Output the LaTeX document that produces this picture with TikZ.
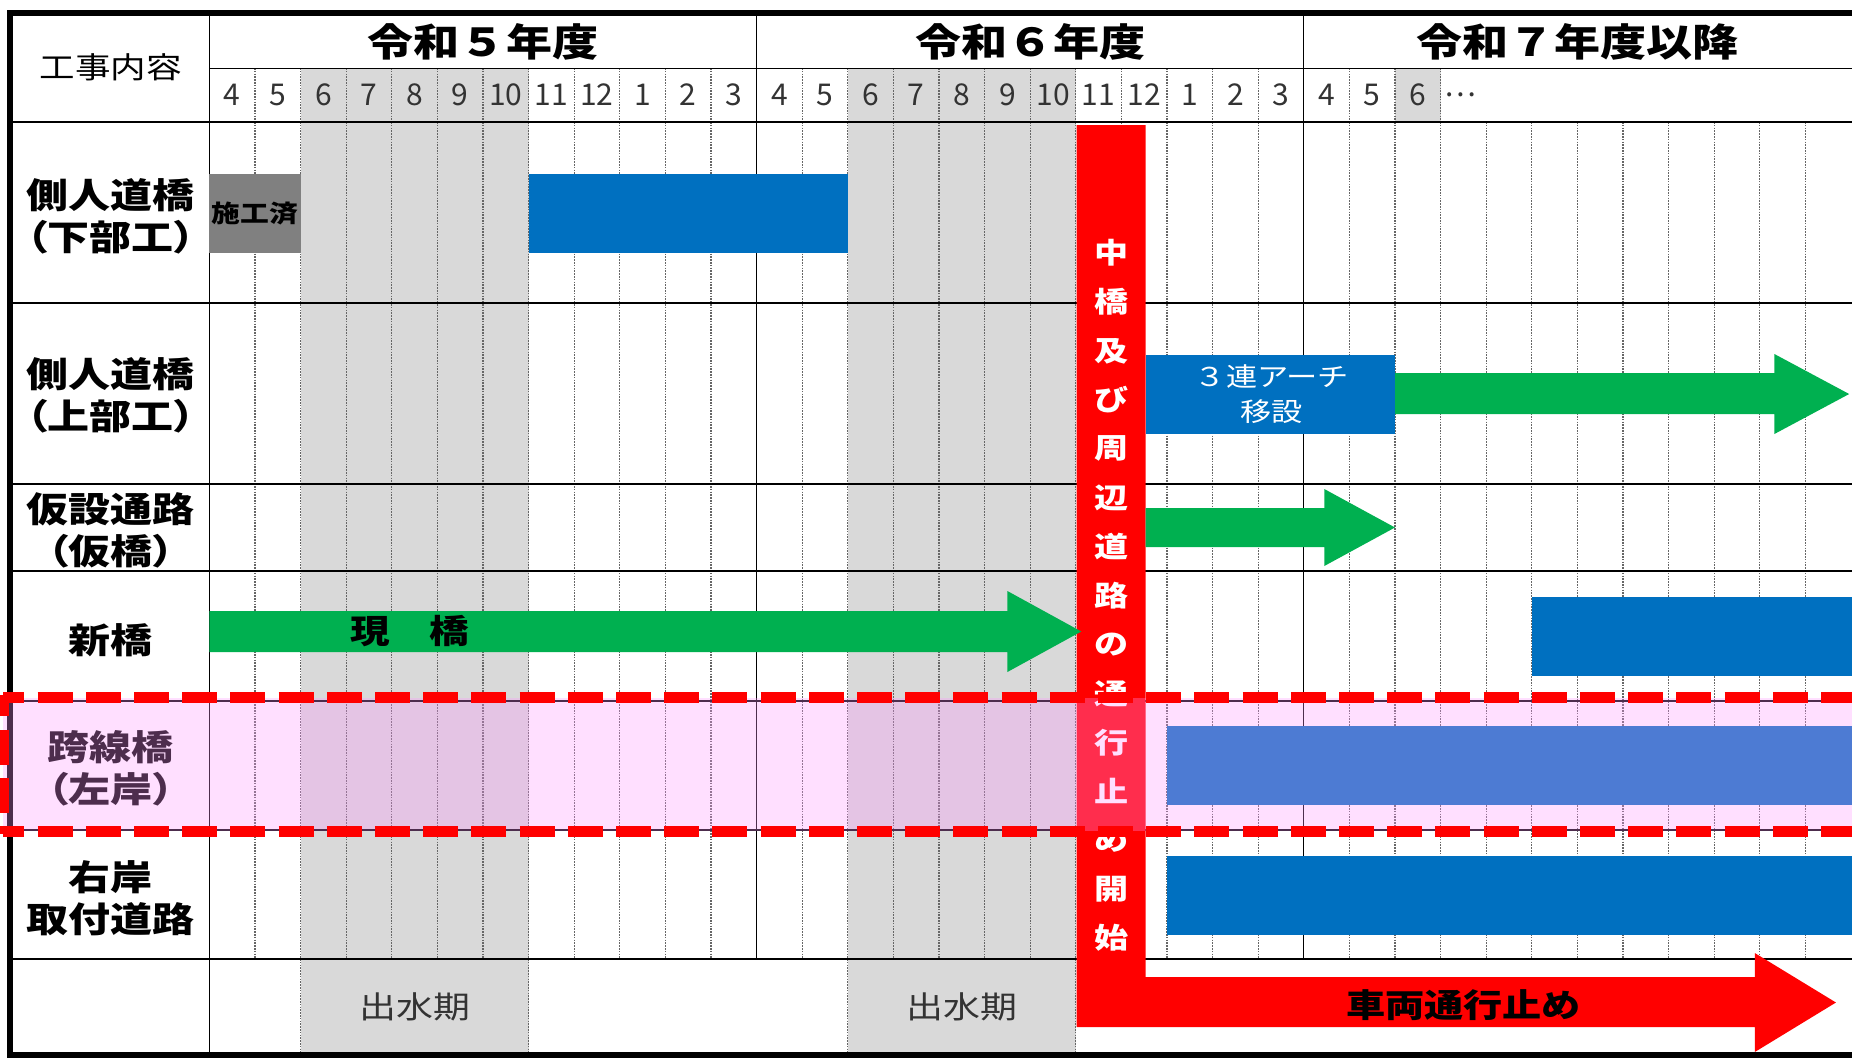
\documentclass[tikz,border=0pt]{standalone}
\usepackage{fontspec}
\setmainfont{Noto Sans CJK JP}[FakeStretch=1.2]
\newfontfamily\lblfont{Noto Sans CJK JP}[FakeStretch=1.2,RawFeature=+palt]
\newfontfamily\numfont{Noto Sans CJK JP}
\definecolor{barblue}{HTML}{0070C0}
\definecolor{arrgreen}{HTML}{00B050}
\definecolor{flood}{HTML}{D9D9D9}
\definecolor{donegray}{HTML}{808080}
\definecolor{pinkov}{RGB}{255,150,255}
\tikzset{
  lbl/.style={font=\lblfont\bfseries\fontsize{17.5}{21}\selectfont,align=center},
  mon/.style={font=\numfont\fontsize{15}{17}\selectfont,text=black!80},
  yr/.style={font=\bfseries\fontsize{19.2}{22}\selectfont},
  mline/.style={black!60,line width=0.6pt,dash pattern=on 0.8pt off 0.6pt},
  rowline/.style={line width=1.1pt},
  vchar/.style={text=white,font=\bfseries\fontsize{14.2}{16}\selectfont},
  season/.style={font=\fontsize{15.4}{18}\selectfont,text=black!80}
}
\begin{document}
\begin{tikzpicture}[x=22.8pt,y=-0.5pt,every node/.style={inner sep=0pt}]
\useasboundingbox (-4.592,0) rectangle (36.022,1057);
% flood season
\fill[flood] (2,68) rectangle (7,1052);
\fill[flood] (14,68) rectangle (19,1052);
\fill[flood] (26,68) rectangle (27,122);
% grid
\foreach \i in {1,...,11,13,14,...,23,25,26,27} \draw[mline] (\i,68) -- (\i,122);
\foreach \i in {1,...,11,13,14,...,23,25,26,...,35} \draw[mline] (\i,122) -- (\i,959);
\foreach \i in {2,7,14,19} \draw[mline] (\i,959) -- (\i,1052);
\foreach \i in {12,24} \draw[line width=0.5pt] (\i,15) -- (\i,959);
\draw[line width=0.5pt] (0,15) -- (0,1052);
\draw[line width=0.5pt] (0,68) -- (36.5,68);
\foreach \y in {122,303,484,571,701,830,959} \draw[rowline] (-4.373,\y) -- (36.5,\y);
% header
\node (hd) at (-2.16,67) {\fontsize{14.8}{17}\selectfont 工事内容};
\node[yr] (y5) at (6,42) {令和５年度};
\node[yr] (y6) at (18,42) {令和６年度};
\node[yr] (y7) at (30,42) {令和７年度以降};
\foreach \m [count=\i from 0] in {4,5,6,7,8,9,10,11,12,1,2,3,4,5,6,7,8,9,10,11,12,1,2,3,4,5,6}
  \node[mon] (m\i) at (\i+0.5,95) {\m};
\node[mon,anchor=west] (more) at (27.07,95) {…};
% works
\node[lbl] (r1) at (-2.16,216.5) {側人道橋\\（下部工）};
\node[lbl] (r2) at (-2.16,395.5) {側人道橋\\（上部工）};
\node[lbl] (r3) at (-2.16,530) {仮設通路\\（仮橋）};
\node[lbl] (r4) at (-2.16,640) {新橋};
\node[lbl] (r5) at (-2.16,768) {跨線橋\\（左岸）};
\node[lbl] (r6) at (-2.16,898.5) {右岸\\取付道路};
% bars
\fill[donegray] (0,174) rectangle (2,253);
\node[font=\bfseries\fontsize{12}{14}\selectfont] (done) at (1,213.5) {施工済};
\fill[barblue] (7,174) rectangle (14,253);
\fill[barblue] (20.53,355) rectangle (26,434);
\node[align=center,text=white,font=\fontsize{13}{17.5}\selectfont] (arch) at (23.3,394.5) {３連アーチ\\移設};
\fill[barblue] (29,597) rectangle (36.5,676);
\fill[barblue] (21,726) rectangle (36.5,805);
\fill[barblue] (21,856) rectangle (36.5,935);
% closure
\fill[red] (19.02,125) -- (20.53,125) -- (20.53,977) -- (33.89,977) -- (33.89,953) -- (35.67,1002.5)
  -- (33.89,1052) -- (33.89,1027) -- (19.02,1027) -- cycle;
\foreach \c [count=\i from 0] in {中,橋,及,び,周,辺,道,路,の,通,行,止,め,開,始}
  \node[vchar] (v\i) at (19.78,253+48.93*\i) {\c};
\node[font=\bfseries\fontsize{16.3}{18}\selectfont] (stop) at (27.5,1005) {車両通行止め};
% green arrows
\fill[arrgreen] (26,373) -- (34.32,373) -- (34.32,354) -- (35.96,394) -- (34.32,434) -- (34.32,414) -- (26,414) -- cycle;
\fill[arrgreen] (20.53,508) -- (24.45,508) -- (24.45,489) -- (26,527.5) -- (24.45,566) -- (24.45,547) -- (20.53,547) -- cycle;
\fill[arrgreen] (0,611) -- (17.5,611) -- (17.5,591) -- (19.12,631.5) -- (17.5,672) -- (17.5,652) -- (0,652) -- cycle;
\node[font=\bfseries\fontsize{16.5}{18}\selectfont] (old) at (4.4,631) {現　橋};
% bottom row
\node[season] (f5) at (4.5,1007) {出水期};
\node[season] (f6) at (16.5,1007) {出水期};
% frame
\draw[line width=3pt] (-4.373,12.5) rectangle (36.6,1054.5);
% left bank
\fill[pinkov,opacity=0.3] (-4.526,697.7) rectangle (36.6,831);
\begin{scope}[red,line width=5.5pt,dash pattern=on 17.5pt off 6.6pt,dash phase=6.8pt]
  \draw (-4.526,697.7) -- (36.6,697.7);
  \draw (-4.526,831) -- (36.6,831);
  \draw (-4.526,695) -- (-4.526,834);
\end{scope}
\end{tikzpicture}
\end{document}
